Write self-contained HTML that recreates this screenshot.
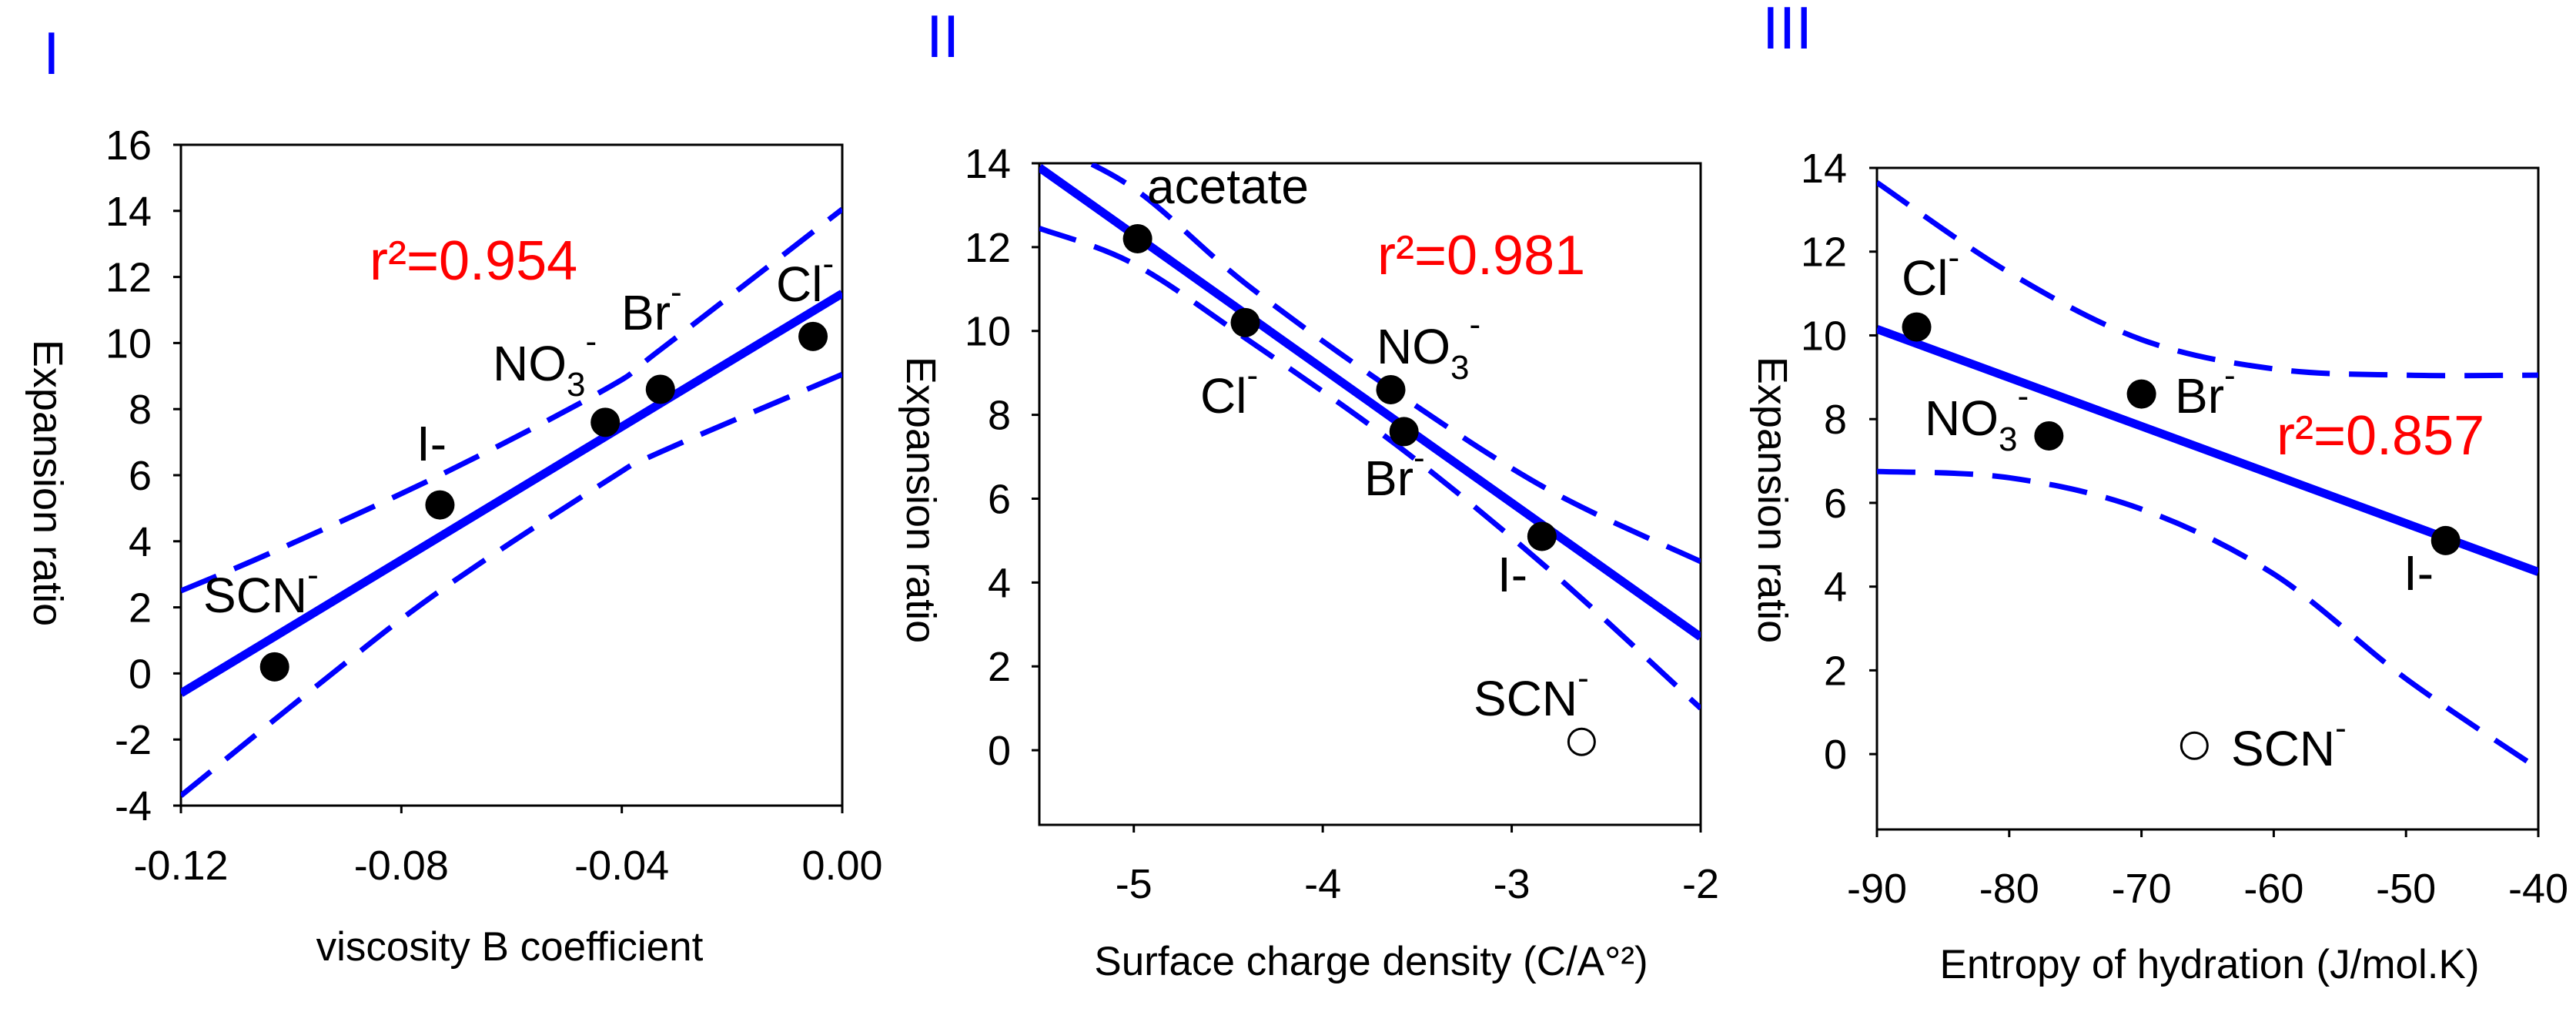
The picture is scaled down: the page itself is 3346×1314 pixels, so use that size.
<!DOCTYPE html>
<html><head><meta charset="utf-8">
<style>
html,body{margin:0;padding:0;background:#fff;}
svg{display:block;}
text{font-family:"Liberation Sans",Arial,sans-serif;}
</style></head>
<body>
<svg id="fig" width="3346" height="1314" viewBox="0 0 3346 1314" xmlns="http://www.w3.org/2000/svg"></svg>
<script>
// ---- Panel I data ----
const p1X = [-0.103, -0.073, -0.043, -0.033, -0.0053];
const p1Y = [0.2, 5.1, 7.6, 8.6, 10.2];
const p1Names = ["SCN", "I-", "NO3", "Br", "Cl"];
const p1FitX = [-0.12, 0.0];
const p1FitY = [-0.6, 11.5];
const p1UpX = [-0.12, -0.103, -0.073, -0.043, -0.033, 0.0];
const p1UpY = [2.5, 3.7, 6.0, 8.6, 9.8, 14.05];
const p1LoX = [-0.12, -0.095, -0.073, -0.043, -0.033, 0.0];
const p1LoY = [-3.7, -0.33, 2.5, 5.8, 6.7, 9.05];
const p1XTicks = [-0.12, -0.08, -0.04, 0.00];
const p1XTickLabels = ["-0.12", "-0.08", "-0.04", "0.00"];
const p1YTicks = [-4, -2, 0, 2, 4, 6, 8, 10, 12, 14, 16];

// ---- Panel II data ----
const p2X = [-4.98, -4.41, -3.64, -3.57, -2.84];
const p2Y = [12.2, 10.2, 8.6, 7.6, 5.1];
const p2OpenX = [-2.63];
const p2OpenY = [0.2];
const p2FitX = [-5.5, -2.0];
const p2FitY = [13.9, 2.7];
const p2UpX = [-5.5, -5.0, -4.4, -3.6, -2.8, -2.0];
const p2UpY = [14.55, 13.4, 11.1, 8.5, 6.2, 4.5];
const p2LoX = [-5.5, -5.0, -4.4, -3.6, -2.8, -2.0];
const p2LoY = [12.45, 11.6, 9.8, 7.25, 4.3, 1.0];
const p2XTicks = [-5, -4, -3, -2];
const p2XTickLabels = ["-5", "-4", "-3", "-2"];
const p2YTicks = [0, 2, 4, 6, 8, 10, 12, 14];

// ---- Panel III data ----
const p3X = [-87, -77, -70, -47];
const p3Y = [10.2, 7.6, 8.6, 5.1];
const p3OpenX = [-66];
const p3OpenY = [0.2];
const p3FitX = [-90, -40];
const p3FitY = [10.15, 4.35];
const p3UpX = [-90, -80, -70, -60, -50, -40];
const p3UpY = [13.65, 11.5, 9.9, 9.2, 9.05, 9.05];
const p3LoX = [-90, -80, -70, -60, -50, -40];
const p3LoY = [6.75, 6.6, 5.85, 4.3, 1.8, -0.35];
const p3XTicks = [-90, -80, -70, -60, -50, -40];
const p3XTickLabels = ["-90", "-80", "-70", "-60", "-50", "-40"];
const p3YTicks = [0, 2, 4, 6, 8, 10, 12, 14];

const NS = "http://www.w3.org/2000/svg";
const svg = document.getElementById("fig");
function mk(tag, attrs, parent) {
  const e = document.createElementNS(NS, tag);
  for (const k in attrs) e.setAttribute(k, attrs[k]);
  (parent || svg).appendChild(e);
  return e;
}
function smoothPath(pts) {
  let d = "M" + pts[0][0] + "," + pts[0][1];
  for (let i = 0; i < pts.length - 1; i++) {
    const p0 = pts[Math.max(i - 1, 0)], p1 = pts[i], p2 = pts[i + 1], p3 = pts[Math.min(i + 2, pts.length - 1)];
    const c1x = p1[0] + (p2[0] - p0[0]) / 6, c1y = p1[1] + (p2[1] - p0[1]) / 6;
    const c2x = p2[0] - (p3[0] - p1[0]) / 6, c2y = p2[1] - (p3[1] - p1[1]) / 6;
    d += " C" + c1x + "," + c1y + " " + c2x + "," + c2y + " " + p2[0] + "," + p2[1];
  }
  return d;
}

function panel(cfg) {
  const g = mk("g", {});
  
  
  const sx = v => cfg.left + (v - cfg.xmin) / (cfg.xmax - cfg.xmin) * (cfg.right - cfg.left);
  const sy = v => cfg.bottom - (v - cfg.ymin) / (cfg.ymax - cfg.ymin) * (cfg.bottom - cfg.top);
  const clipId = cfg.id + "-clip";
  const cp = mk("clipPath", { id: clipId }, g);
  mk("rect", { x: cfg.left, y: cfg.top, width: cfg.right - cfg.left, height: cfg.bottom - cfg.top }, cp);

  const fr = mk("rect", { x: cfg.left, y: cfg.top, width: cfg.right - cfg.left, height: cfg.bottom - cfg.top, fill: "none", stroke: "#000", "stroke-width": 3 }, g);
  
  

  cfg.yTicks.forEach(t => {
    const y = sy(t);
    const tk = mk("line", { x1: cfg.left - 10, x2: cfg.left, y1: y, y2: y, stroke: "#000", "stroke-width": 3 }, g);
    
    
    const tl = mk("text", { x: cfg.yLabelRight, y: y + 19, "text-anchor": "end", "font-size": 54 }, g);
    tl.textContent = String(t);
    
    
  });
  cfg.xTicks.forEach((t, i) => {
    const x = sx(t);
    const tk = mk("line", { x1: x, x2: x, y1: cfg.bottom, y2: cfg.bottom + 10, stroke: "#000", "stroke-width": 3 }, g);
    
    
    const tl = mk("text", { x: x, y: cfg.xLabelBase, "text-anchor": "middle", "font-size": 54 }, g);
    tl.textContent = cfg.xTickLabels[i];
    
    
  });
  const xt = mk("text", { x: cfg.xTitleX, y: cfg.xTitleBase, "text-anchor": "middle", "font-size": 53 }, g);
  xt.textContent = cfg.xTitle;
  
  
  const yt = mk("text", { x: 0, y: 0, "text-anchor": "middle", "font-size": 54, transform: "translate(" + cfg.yTitleX + "," + cfg.yTitleY + ") rotate(90)" }, g);
  yt.textContent = "Expansion ratio";
  
  
  const pl = mk("text", { x: cfg.panelX, y: cfg.panelY, "font-size": 78, fill: "#0000ff" }, g);
  pl.textContent = cfg.panelLabel;
  
  

  const cg = mk("g", { "clip-path": "url(#" + clipId + ")" }, g);
  [[cfg.upX, cfg.upY, "upper-confidence-band"], [cfg.loX, cfg.loY, "lower-confidence-band"]].forEach(b => {
    const pts = b[0].map((v, i) => [sx(v), sy(b[1][i])]);
    const p = mk("path", { d: smoothPath(pts), fill: "none", stroke: "#0000ff", "stroke-width": 7, "stroke-dasharray": "50 25" }, cg);
    
    
  });
  const rl = mk("line", { x1: sx(cfg.fitX[0]), y1: sy(cfg.fitY[0]), x2: sx(cfg.fitX[1]), y2: sy(cfg.fitY[1]), stroke: "#0000ff", "stroke-width": 11 }, cg);
  
  
  cfg.px.forEach((v, i) => {
    const c = mk("circle", { cx: sx(v), cy: sy(cfg.py[i]), r: 19, fill: "#000" }, g);
    
    
  });
  (cfg.ox || []).forEach((v, i) => {
    const c = mk("circle", { cx: sx(v), cy: sy(cfg.oy[i]), r: 17, fill: "#fff", stroke: "#000", "stroke-width": 3 }, g);
    
    
  });
  const r2 = mk("text", { x: cfg.r2X, y: cfg.r2Y, "font-size": 72, fill: "#ff0000" }, g);
  r2.textContent = cfg.r2;
  
  
  cfg.labels.forEach(l => {
    const t = mk("text", { x: l.x, y: l.y, "font-size": 64 }, g);
    
    
    const a = mk("tspan", {}, t); a.textContent = l.base;
    if (l.sub) { const s = mk("tspan", { dy: 20, "font-size": 44 }, t); s.textContent = l.sub; }
    if (l.sup) { const s = mk("tspan", { dy: l.sub ? -56 : -34, "font-size": 44 }, t); s.textContent = l.sup; }
  });
}

panel({ id: "panel-viscosity", left: 235, right: 1094, top: 188, bottom: 1046,
  xmin: -0.12, xmax: 0, ymin: -4, ymax: 16,
  xTicks: p1XTicks, xTickLabels: p1XTickLabels, yTicks: p1YTicks,
  yLabelRight: 197, xLabelBase: 1142, xTitle: "viscosity B coefficient", xTitleX: 662, xTitleBase: 1247,
  yTitleX: 44, yTitleY: 627, panelLabel: "I", panelX: 56, panelY: 96,
  px: p1X, py: p1Y, fitX: p1FitX, fitY: p1FitY, upX: p1UpX, upY: p1UpY, loX: p1LoX, loY: p1LoY,
  r2: "r²=0.954", r2X: 480, r2Y: 363,
  labels: [
    { x: 264, y: 795, base: "SCN", sup: "-" },
    { x: 541, y: 598, base: "I-" },
    { x: 640, y: 494, base: "NO", sub: "3", sup: "-" },
    { x: 807, y: 428, base: "Br", sup: "-" },
    { x: 1008, y: 391, base: "Cl", sup: "-" }
  ] });

panel({ id: "panel-surface-charge", left: 1350, right: 2209, top: 212, bottom: 1071,
  xmin: -5.5, xmax: -2, ymin: -1.78, ymax: 14,
  xTicks: p2XTicks, xTickLabels: p2XTickLabels, yTicks: p2YTicks,
  yLabelRight: 1313, xLabelBase: 1166, xTitle: "Surface charge density (C/A°²)", xTitleX: 1781, xTitleBase: 1266,
  yTitleX: 1178, yTitleY: 649, panelLabel: "II", panelX: 1203, panelY: 74,
  px: p2X, py: p2Y, ox: p2OpenX, oy: p2OpenY, fitX: p2FitX, fitY: p2FitY, upX: p2UpX, upY: p2UpY, loX: p2LoX, loY: p2LoY,
  r2: "r²=0.981", r2X: 1789, r2Y: 356,
  labels: [
    { x: 1490, y: 264, base: "acetate" },
    { x: 1559, y: 536, base: "Cl", sup: "-" },
    { x: 1788, y: 472, base: "NO", sub: "3", sup: "-" },
    { x: 1772, y: 643, base: "Br", sup: "-" },
    { x: 1945, y: 768, base: "I-" },
    { x: 1914, y: 929, base: "SCN", sup: "-" }
  ] });

panel({ id: "panel-entropy", left: 2438, right: 3297, top: 218, bottom: 1077,
  xmin: -90, xmax: -40, ymin: -1.8, ymax: 14,
  xTicks: p3XTicks, xTickLabels: p3XTickLabels, yTicks: p3YTicks,
  yLabelRight: 2399, xLabelBase: 1172, xTitle: "Entropy of hydration (J/mol.K)", xTitleX: 2870, xTitleBase: 1270,
  yTitleX: 2284, yTitleY: 649, panelLabel: "III", panelX: 2289, panelY: 63,
  px: p3X, py: p3Y, ox: p3OpenX, oy: p3OpenY, fitX: p3FitX, fitY: p3FitY, upX: p3UpX, upY: p3UpY, loX: p3LoX, loY: p3LoY,
  r2: "r²=0.857", r2X: 2957, r2Y: 590,
  labels: [
    { x: 2470, y: 383, base: "Cl", sup: "-" },
    { x: 2825, y: 536, base: "Br", sup: "-" },
    { x: 2500, y: 565, base: "NO", sub: "3", sup: "-" },
    { x: 3122, y: 766, base: "I-" },
    { x: 2898, y: 994, base: "SCN", sup: "-" }
  ] });
</script>
</body></html>
